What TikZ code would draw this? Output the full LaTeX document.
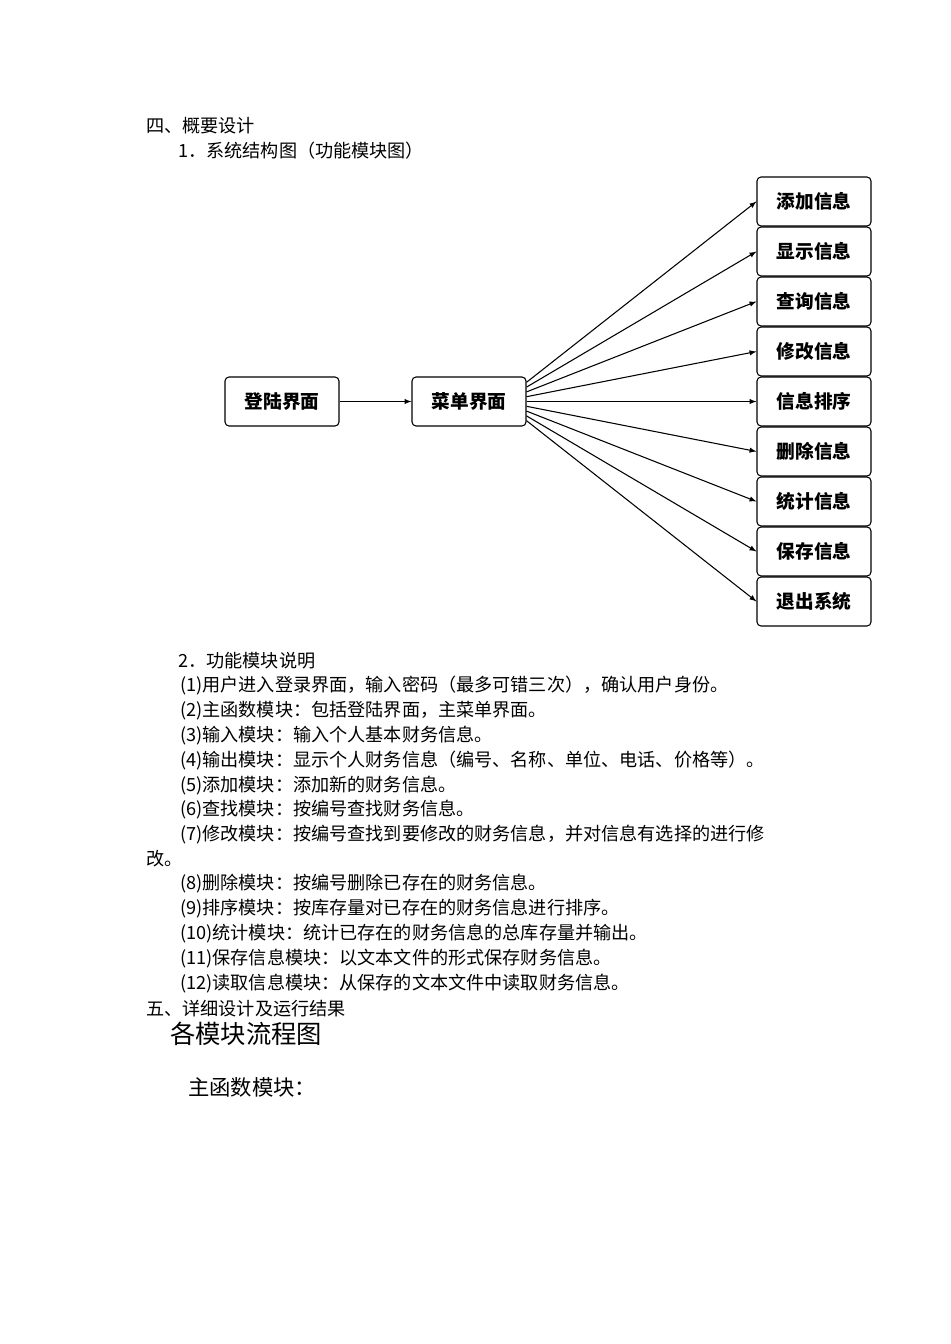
\documentclass[tikz,border=0pt]{standalone}
\usepackage{fontspec}
\setmainfont{Noto Sans CJK SC}
\begin{document}
\begin{tikzpicture}[x=0.75pt,y=-0.75pt,
 box/.style={draw,thick,rounded corners=3pt,minimum width=114*0.75pt,minimum height=49*0.75pt,font=\fontsize{14}{15}\selectfont\bfseries},
 txt/.style={anchor=west,inner sep=0pt,font=\fontsize{13.6}{14}\selectfont},
 arr/.style={-latex,thick}]
\useasboundingbox (0,0) rectangle (950,1344);
\node[txt] (h4) at (146,126) {四、概要设计};
\node[txt] (h41) at (178,151) {1．系统结构图（功能模块图）};
\node[box] (login) at (282,401.5) {登陆界面};
\node[box] (menu) at (469,401.5) {菜单界面};
\draw[arr] (login) -- (menu);
\foreach \n/\t [count=\i from 0] in {a/添加信息,b/显示信息,c/查询信息,d/修改信息,e/信息排序,f/删除信息,g/统计信息,h/保存信息,k/退出系统}{
  \node[box] (\n) at (814,201.5+50*\i) {\t};
  \draw[arr] ([yshift={-(\i-4)*3.6pt}]menu.east) -- (\n.west);
}
\node[txt] (s2) at (178,661) {2．功能模块说明};
\foreach \t [count=\i from 0] in {(1)用户进入登录界面，输入密码（最多可错三次），确认用户身份。,
 (2)主函数模块：包括登陆界面，主菜单界面。,
 (3)输入模块：输入个人基本财务信息。,
 (4)输出模块：显示个人财务信息（编号、名称、单位、电话、价格等）。,
 (5)添加模块：添加新的财务信息。,
 (6)查找模块：按编号查找财务信息。,
 (7)修改模块：按编号查找到要修改的财务信息，并对信息有选择的进行修}
 \node[txt] (l\i) at (180,686+24.8*\i) {\t};
\node[txt] (l7) at (146,859) {改。};
\foreach \t [count=\i from 0] in {(8)删除模块：按编号删除已存在的财务信息。,
 (9)排序模块：按库存量对已存在的财务信息进行排序。,
 (10)统计模块：统计已存在的财务信息的总库存量并输出。,
 (11)保存信息模块：以文本文件的形式保存财务信息。,
 (12)读取信息模块：从保存的文本文件中读取财务信息。}
 \node[txt] (m\i) at (180,884+24.8*\i) {\t};
\node[txt] (h5) at (146,1009) {五、详细设计及运行结果};
\node[txt,font=\fontsize{19}{20}\selectfont] (p1) at (170,1034) {各模块流程图};
\node[txt,font=\fontsize{16}{17}\selectfont] (p2) at (188,1087) {主函数模块：};
\end{tikzpicture}
\end{document}
